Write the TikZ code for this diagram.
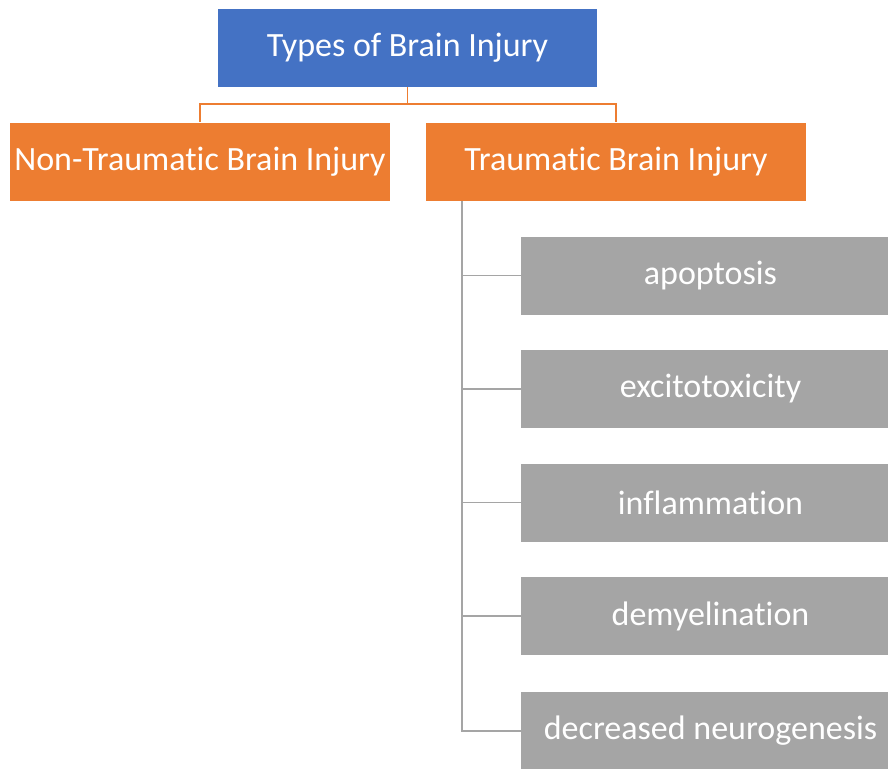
\documentclass[tikz,border=0pt]{standalone}
\usepackage{fontspec}
\setmainfont{Carlito}[Ligatures=NoCommon]
\usepackage{tikz}
\definecolor{boxblue}{HTML}{4472C4}
\definecolor{boxorange}{HTML}{ED7D31}
\definecolor{boxgray}{HTML}{A5A5A5}

\begin{document}
\begin{tikzpicture}[x=1pt,y=-1pt,
    level/.style={inner sep=0,text=white,font=\fontsize{34}{40}\selectfont,
      minimum height=78pt},
    rootbox/.style={level,fill=boxblue,minimum width=379pt},
    typebox/.style={level,fill=boxorange,minimum width=380pt},
    causebox/.style={level,fill=boxgray,minimum width=379pt},
    orangeline/.style={draw=boxorange,line width=1.8pt},
    grayline/.style={draw=boxgray,line width=1.8pt}]
  \useasboundingbox (0,0) rectangle (888,768);
  %\draw[red] (0,0) rectangle (888,768);
  \node[rootbox] (root) at (407.5,48) {Types of Brain Injury};
  \node[typebox] (non) at (200,161.5) {Non-Traumatic Brain Injury};
  \node[typebox] (tbi) at (616,161.5) {Traumatic Brain Injury};
  \draw[orangeline] (root.south) -- ++(0,17) coordinate (fork) -| (non.north);
  \draw[orangeline] (fork) -| (tbi.north);
  \foreach \name/\txt/\y in {apop/apoptosis/275.5,excit/excitotoxicity/389,
      infl/inflammation/502.5,demy/demyelination/616,decr/decreased neurogenesis/731}
    \node[causebox] (\name) at (710.5,\y) {\txt};
  \coordinate (spine) at (462,201);
  \draw[grayline] (spine) |- (decr.west);
  \foreach \name in {apop,excit,infl,demy}
    \draw[grayline] (spine) |- (\name.west);
\end{tikzpicture}
\end{document}
